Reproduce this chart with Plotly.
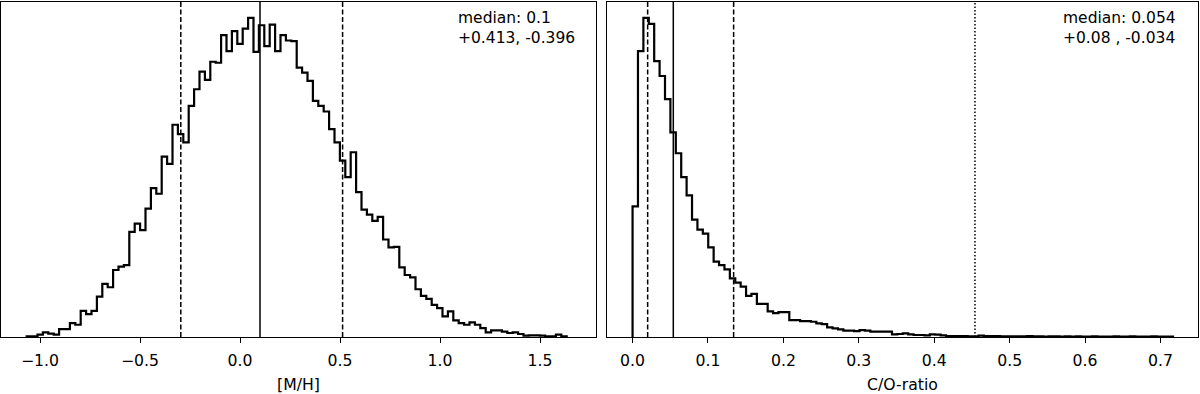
import numpy as np
import plotly.graph_objects as go

# [M/H] posterior histogram (100 bins)
mh_lo, mh_hi = -1.0665, 1.6335
mh_counts = [2, 2, 7, 14, 10, 7, 24, 24, 42, 37, 79, 69, 79, 122, 160, 150, 202, 212, 217, 317,
             342, 322, 387, 449, 432, 544, 522, 640, 612, 587, 697, 747, 800, 775, 830, 827, 910, 862, 922, 884,
             930, 962, 860, 940, 877, 942, 862, 910, 894, 892, 812, 797, 772, 712, 697, 680, 627, 587, 532, 482,
             557, 437, 384, 369, 350, 362, 294, 270, 272, 210, 187, 180, 144, 124, 115, 97, 87, 62, 77, 50,
             42, 37, 44, 37, 27, 14, 20, 20, 16, 12, 14, 9, 4, 5, 5, 4, 2, 2, 7, 2]
mh_median, mh_low, mh_high = 0.1, -0.296, 0.513
mh_ticks = [-1.0, -0.5, 0.0, 0.5, 1.0, 1.5]
mh_label = 'median: 0.1<br>+0.413, -0.396'

# C/O posterior histogram (100 bins)
co_lo, co_hi = 0.0, 0.7166
co_counts = [394, 862, 962, 944, 832, 787, 717, 617, 554, 482, 427, 354, 324, 312, 270, 227, 217, 204, 177, 164,
             152, 124, 130, 100, 100, 77, 72, 75, 75, 51, 51, 48, 48, 46, 41, 39, 29, 26, 23, 19,
             19, 18, 21, 19, 16, 16, 16, 16, 8, 9, 11, 8, 6, 6, 5, 8, 7, 5, 3, 3,
             3, 3, 2, 2, 4, 3, 3, 3, 2, 2, 2, 2, 2, 3, 2, 2, 1, 2, 2, 1,
             2, 1, 2, 1, 1, 2, 1, 1, 1, 2, 1, 1, 2, 1, 1, 1, 2, 1, 1, 1]
co_median, co_low, co_high = 0.054, 0.020, 0.134
co_ref = 0.454
co_ticks = [0.0, 0.1, 0.2, 0.3, 0.4, 0.5, 0.6, 0.7]
co_label = 'median: 0.054<br>+0.08 , -0.034'


def step_xy(lo, hi, counts):
    # outline of a step histogram, closed down to zero at both ends
    edges = np.linspace(lo, hi, len(counts) + 1)
    x = [edges[0]] + list(edges)
    y = [0] + list(counts) + [0]
    return x, y


fig = go.Figure()

x, y = step_xy(mh_lo, mh_hi, mh_counts)
fig.add_trace(go.Scatter(x=x, y=y, mode='lines', line=dict(color='black', width=2.2, shape='hv'),
                         xaxis='x', yaxis='y'))
x, y = step_xy(co_lo, co_hi, co_counts)
fig.add_trace(go.Scatter(x=x, y=y, mode='lines', line=dict(color='black', width=2.2, shape='hv'),
                         xaxis='x2', yaxis='y2'))

# vertical markers: median solid, 1-sigma dashed
for xr, yr, vals in [('x', 'y domain', (mh_median, mh_low, mh_high)),
                     ('x2', 'y2 domain', (co_median, co_low, co_high))]:
    for v, dash in zip(vals, ['solid', '5px,2.5px', '5px,2.5px']):
        fig.add_shape(type='line', xref=xr, yref=yr, x0=v, x1=v, y0=0, y1=1,
                      line=dict(color='black', width=1.5, dash=dash))
fig.add_shape(type='line', xref='x2', yref='y2 domain', x0=co_ref, x1=co_ref, y0=0, y1=1,
              line=dict(color='black', width=1.5, dash='1.5px,2px'))

ann_font = dict(family='DejaVu Sans', size=15.5, color='black')
for xp, txt in [(456 / 1200, mh_label), (1061 / 1200, co_label)]:
    fig.add_annotation(x=xp, y=(394 - 7) / 394, xref='paper', yref='paper', text=txt,
                       showarrow=False, xanchor='left', yanchor='top', align='left',
                       font=ann_font)

ax_common = dict(showline=True, mirror=True, linecolor='black', linewidth=1.2,
                 showgrid=False, zeroline=False, ticks='outside', ticklen=5, tickwidth=1.2,
                 tickcolor='black', tickformat='.1f', tickfont=dict(size=15.7),
                 ticklabelstandoff=4, title_font=dict(size=15.7), title_standoff=13,
                 automargin=False)
y_common = dict(showline=True, mirror=True, linecolor='black', linewidth=1.2,
                showgrid=False, zeroline=False, showticklabels=False, ticks='', automargin=False)

ydom = [57 / 394, 392 / 394]
fig.update_layout(
    width=1200, height=394,
    margin=dict(l=0, r=0, t=0, b=0),
    plot_bgcolor='white', paper_bgcolor='white',
    showlegend=False,
    font=dict(family='DejaVu Sans', size=15.7, color='black'),
    xaxis=dict(domain=[1 / 1200, 596 / 1200], range=[-1.195, 1.78], tickvals=mh_ticks,
               title_text='[M/H]', anchor='y', **ax_common),
    yaxis=dict(domain=ydom, range=[0, max(mh_counts) * 1.05], anchor='x', **y_common),
    xaxis2=dict(domain=[607 / 1200, 1198 / 1200], range=[-0.0339, 0.7497], tickvals=co_ticks,
                title_text='C/O-ratio', anchor='y2', **ax_common),
    yaxis2=dict(domain=ydom, range=[0, max(co_counts) * 1.05], anchor='x2', **y_common),
)

# drop the page's default body margin so the figure sits at the window origin
fig.write_html("out.html", config={'displayModeBar': False},
               post_script="document.body.style.margin='0';")
